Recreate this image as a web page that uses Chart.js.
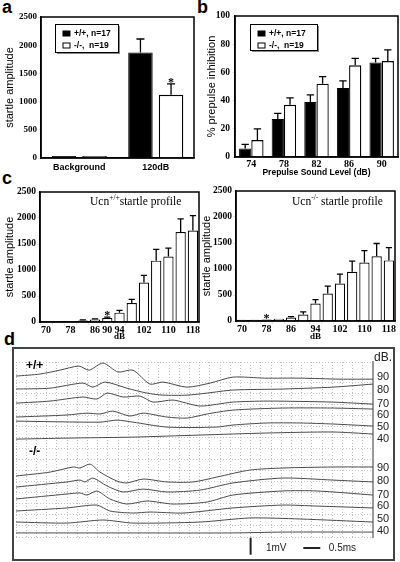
<!DOCTYPE html>
<html>
<head>
<meta charset="utf-8">
<title>Ucn startle</title>
<script src="https://cdn.jsdelivr.net/npm/chart.js@4.4.1/dist/chart.umd.min.js"></script>
<style>
  body { margin: 0; width: 400px; height: 562px; position: relative; overflow: hidden; background: #fff; font-family: 'Liberation Sans', Arial, sans-serif; }
  canvas { position: absolute; }
  .tag { position: absolute; font-weight: bold; font-size: 18px; line-height: 18px; }
  .geno { position: absolute; font-weight: bold; font-size: 12px; line-height: 14px; }
  #boxD { position: absolute; left: 12px; top: 347px; width: 379px; height: 210px; border: 2px solid #444; }
</style>
</head>
<body>
<div class="tag" style="left:2px;top:-2px">a</div>
<div class="tag" style="left:197px;top:-2px">b</div>
<div class="tag" style="left:2px;top:169px">c</div>
<div class="tag" style="left:4px;top:330px">d</div>
<canvas id="chartA" width="200" height="178" style="left:0;top:0"></canvas>
<canvas id="chartB" width="200" height="180" style="left:200px;top:0"></canvas>
<canvas id="chartC1" width="200" height="169" style="left:0;top:176px"></canvas>
<canvas id="chartC2" width="200" height="169" style="left:200px;top:176px"></canvas>
<div id="boxD"></div>
<canvas id="chartD" width="379" height="210" style="left:14px;top:349px"></canvas>
<div class="geno" style="left:26px;top:358px">+/+</div>
<div class="geno" style="left:29px;top:444px">-/-</div>

<script>
const serif = "'Liberation Serif', 'Times New Roman', serif";
const sans = "'Liberation Sans', Arial, sans-serif";

// panel a - startle amplitude
const aLabels = ['Background', '120dB'];
const aWT = [35, 1870];
const aWTerr = [0, 240];
const aKO = [35, 1120];
const aKOerr = [0, 195];

// panel b - prepulse inhibition
const bLabels = ['74', '78', '82', '86', '90'];
const bWT = [6, 27, 39, 49, 67];
const bWTerr = [3, 4, 5, 5, 3];
const bKO = [12, 37, 52, 65, 68];
const bKOerr = [8, 5, 5, 5, 8];

// panel c - startle profiles
const cLevels = ['70', '74', '78', '82', '86', '90', '94', '98', '102', '106', '110', '114', '118'];
const c1Shown = ['70', '78', '86', '90', '94', '102', '110', '118'];
const c2Shown = ['70', '78', '86', '94', '102', '110', '118'];
const c1Vals = [20, 20, 20, 30, 50, 75, 180, 365, 760, 1180, 1260, 1730, 1760];
const c1Err = [0, 0, 0, 10, 12, 20, 45, 70, 135, 215, 160, 255, 285];
const c2Vals = [25, 25, 30, 45, 65, 125, 335, 530, 720, 945, 1125, 1245, 1165];
const c2Err = [0, 0, 0, 0, 20, 50, 75, 140, 180, 205, 230, 245, 245];

// panel d - ABR traces (ms, mV)
const dbLevels = [90, 80, 70, 60, 50, 40];
const wtLabelAt = [9.4, 8.65, 7.85, 7.2, 6.45, 5.75];
const koLabelAt = [4.05, 3.3, 2.5, 1.8, 1.05, 0.35];
const wtTimes = [
  [0, 0.7, 1.29, 1.85, 2.15, 2.56, 3.0, 3.44, 3.94, 4.32, 5.03, 5.71, 6.38, 7.32, 8.35, 9.53, 10.5],
  [0, 1.0, 1.97, 2.26, 2.62, 3.26, 3.85, 4.32, 5.03, 5.62, 6.38, 7.85, 9.32, 10.5],
  [0, 1.0, 1.97, 2.38, 2.68, 3.15, 3.65, 4.03, 4.62, 5.41, 6.38, 7.38, 9.32, 10.5],
  [0, 1.5, 2.09, 2.47, 2.85, 3.35, 3.74, 4.44, 5.03, 5.62, 6.38, 7.85, 9.32, 10.5],
  [0, 2.47, 2.97, 3.44, 4.44, 5.91, 6.38, 7.38, 8.35, 9.32, 10.5],
  [0, 1.5, 3.44, 5.41, 7.38, 9.32, 10.5]
];
const wtVolts = [
  [9.47, 9.59, 9.82, 10.06, 9.82, 10.24, 9.71, 9.82, 9.0, 9.12, 8.82, 9.06, 9.41, 9.35, 9.35, 9.29, 9.29],
  [8.71, 8.76, 9.06, 8.82, 9.12, 8.76, 8.47, 8.35, 8.35, 8.47, 8.65, 8.71, 8.82, 9.0],
  [7.88, 8.0, 8.24, 8.12, 8.47, 8.24, 8.29, 7.94, 8.06, 7.71, 7.94, 8.0, 7.94, 7.82],
  [7.06, 7.18, 7.29, 7.24, 7.41, 7.12, 7.29, 7.06, 7.0, 7.24, 7.47, 7.59, 7.59, 7.53],
  [6.82, 6.76, 6.88, 6.76, 6.47, 6.47, 6.59, 6.71, 6.71, 6.65, 6.53],
  [5.76, 5.82, 5.88, 6.0, 6.12, 6.18, 6.06]
];
const koTimes = [
  [0, 1.0, 1.68, 1.88, 2.18, 2.47, 2.97, 3.26, 3.74, 4.44, 5.21, 5.91, 6.88, 7.85, 9.32, 10.5],
  [0, 1.5, 1.88, 2.03, 2.26, 2.68, 3.15, 3.74, 4.44, 5.41, 6.38, 7.85, 9.32, 10.5],
  [0, 1.5, 1.88, 2.09, 2.38, 2.76, 3.26, 3.85, 4.62, 5.62, 6.38, 7.85, 8.85, 10.5],
  [0, 1.5, 2.38, 2.76, 3.44, 3.94, 4.91, 6.38, 7.85, 8.85, 10.5],
  [0, 1.5, 2.56, 3.44, 5.41, 6.88, 8.35, 10.5],
  [0, 3.15, 6.38, 7.85, 10.5]
];
const koVolts = [
  [3.59, 3.82, 4.12, 4.06, 4.29, 3.82, 3.29, 3.18, 3.41, 3.24, 3.24, 3.53, 3.94, 4.06, 4.12, 4.12],
  [2.94, 3.24, 3.35, 3.24, 3.47, 3.0, 2.65, 2.82, 2.65, 2.76, 3.18, 3.47, 3.35, 3.24],
  [2.24, 2.53, 2.59, 2.47, 2.71, 2.24, 1.94, 2.12, 1.94, 2.06, 2.47, 2.71, 2.71, 2.47],
  [1.53, 1.71, 1.88, 1.53, 1.41, 1.47, 1.41, 1.71, 1.88, 1.82, 1.71],
  [0.88, 0.82, 1.0, 0.82, 0.88, 1.12, 1.06, 0.88],
  [0.24, 0.24, 0.24, 0.29, 0.29]
];

Chart.defaults.font.family = sans;
Chart.defaults.color = '#000';

// error bars (upward only) + significance stars
const errorBars = {
  id: 'errorBars',
  afterDatasetsDraw(chart) {
    const ctx = chart.ctx, y = chart.scales.y;
    chart.data.datasets.forEach((ds, i) => {
      if (!ds.errors) return;
      chart.getDatasetMeta(i).data.forEach((bar, j) => {
        const top = y.getPixelForValue(ds.data[j] + ds.errors[j]);
        ctx.save();
        ctx.strokeStyle = '#000';
        ctx.lineWidth = 1.3;
        if (ds.errors[j] > 0) {
          const half = Math.min(4, bar.width * 0.3);
          ctx.beginPath();
          ctx.moveTo(bar.x, bar.y);
          ctx.lineTo(bar.x, top);
          ctx.moveTo(bar.x - half, top);
          ctx.lineTo(bar.x + half, top);
          ctx.stroke();
        }
        if (ds.stars && ds.stars[j]) {
          ctx.fillStyle = '#000';
          ctx.font = 'bold 12px ' + serif;
          ctx.textAlign = 'center';
          ctx.textBaseline = 'middle';
          ctx.fillText('*', bar.x, top - 1);
        }
        ctx.restore();
      });
    });
  }
};

// box around plot area
const frame = {
  id: 'frame',
  afterDraw(chart) {
    const {ctx, chartArea: ca} = chart;
    ctx.save();
    ctx.strokeStyle = '#000';
    ctx.lineWidth = 1.5;
    ctx.strokeRect(ca.left, ca.top, ca.right - ca.left, ca.bottom - ca.top);
    ctx.restore();
  }
};

// legend box with shadow
const legendBox = {
  id: 'legendBox',
  afterDraw(chart, args, o) {
    if (!o.show) return;
    const {ctx, chartArea: ca} = chart;
    const x = ca.left + o.x, y = ca.top + o.y;
    ctx.save();
    ctx.fillStyle = '#888';
    ctx.fillRect(x + 2, y + 2, o.w, o.h);
    ctx.fillStyle = '#fff';
    ctx.fillRect(x, y, o.w, o.h);
    ctx.strokeStyle = '#000';
    ctx.lineWidth = 1;
    ctx.strokeRect(x + 0.5, y + 0.5, o.w, o.h);
    ctx.font = 'bold 8.5px ' + sans;
    ctx.textBaseline = 'middle';
    chart.data.datasets.forEach((ds, i) => {
      const ry = y + 9.5 + i * 12;
      ctx.fillStyle = ds.backgroundColor;
      ctx.fillRect(x + 8, ry - 2.5, 7, 5);
      ctx.strokeRect(x + 8, ry - 2.5, 7, 5);
      ctx.fillStyle = '#000';
      ctx.fillText(ds.label, x + 19, ry);
    });
    ctx.restore();
  }
};

// "Ucn+/+ startle profile" caption
const caption = {
  id: 'caption',
  afterDraw(chart, args, o) {
    if (!o.pre) return;
    const {ctx, chartArea: ca} = chart;
    let x = ca.left + o.x;
    const y = ca.top + o.y;
    ctx.save();
    ctx.fillStyle = '#000';
    ctx.textBaseline = 'middle';
    ctx.font = '11.5px ' + serif;
    ctx.fillText(o.pre, x, y);
    x += ctx.measureText(o.pre).width;
    ctx.font = '7.5px ' + serif;
    ctx.fillText(o.sup, x, y - 4);
    x += ctx.measureText(o.sup).width;
    ctx.font = '11.5px ' + serif;
    ctx.fillText(o.post, x, y);
    ctx.restore();
  }
};

function barScales(o) {
  return {
    x: {
      grid: {drawOnChartArea: false, drawTicks: !!o.xTickLen, tickLength: o.xTickLen || 0},
      border: {color: '#000', width: 1.5},
      ticks: {
        font: o.xFont, padding: o.xPad, autoSkip: false, maxRotation: 0,
        callback: function (v) {
          const l = this.getLabelForValue(v);
          return !o.shown || o.shown.includes(l) ? l : '';
        }
      },
      title: o.xTitle ? {display: true, text: o.xTitle, font: o.xTitleFont, padding: {top: 0, bottom: o.xTitlePad}} : {display: false},
      afterFit: s => { s.height = o.xH; }
    },
    y: {
      min: 0, max: o.yMax,
      grid: {drawOnChartArea: false, drawTicks: true, tickLength: 3},
      border: {color: '#000', width: 1.5},
      ticks: {stepSize: o.yStep, font: {family: serif, weight: 'bold', size: o.yFontSize}, padding: o.yPad,
              callback: v => String(v)},
      title: {display: true, text: o.yTitle, font: {family: sans, size: 11}, padding: {top: o.yTitlePad, bottom: 0}},
      afterFit: s => { s.width = o.yW; }
    }
  };
}

const common = {
  responsive: false,
  animation: false,
  devicePixelRatio: 1
};

// a
new Chart(document.getElementById('chartA'), {
  type: 'bar',
  data: {
    labels: aLabels,
    datasets: [
      {label: '+/+, n=17', data: aWT, errors: aWTerr, backgroundColor: '#000', borderColor: '#000', borderWidth: 1,
       categoryPercentage: 0.8, barPercentage: 0.8},
      {label: '-/-,  n=19', data: aKO, errors: aKOerr, stars: [false, true], backgroundColor: '#fff', borderColor: '#000', borderWidth: 1.3,
       categoryPercentage: 0.8, barPercentage: 0.8}
    ]
  },
  options: {
    ...common,
    layout: {padding: {left: 0, right: 6, top: 17, bottom: 0}},
    plugins: {
      legend: {display: false}, tooltip: {enabled: false},
      legendBox: {show: true, x: 14, y: 7, w: 63, h: 28}
    },
    scales: barScales({
      xFont: {family: sans, weight: 'bold', size: 9}, xPad: 4, xH: 20,
      yMax: 2500, yStep: 500, yFontSize: 9, yPad: 1, yW: 41,
      yTitle: 'startle amplitude', yTitlePad: 3
    })
  },
  plugins: [errorBars, frame, legendBox]
});

// b
new Chart(document.getElementById('chartB'), {
  type: 'bar',
  data: {
    labels: bLabels,
    datasets: [
      {label: '+/+, n=17', data: bWT, errors: bWTerr, backgroundColor: '#000', borderColor: '#000', borderWidth: 1,
       categoryPercentage: 0.75, barPercentage: 1},
      {label: '-/-,  n=19', data: bKO, errors: bKOerr, backgroundColor: '#fff', borderColor: '#000', borderWidth: 1.3,
       categoryPercentage: 0.75, barPercentage: 1}
    ]
  },
  options: {
    ...common,
    layout: {padding: {left: 0, right: 2, top: 16, bottom: 0}},
    plugins: {
      legend: {display: false}, tooltip: {enabled: false},
      legendBox: {show: true, x: 15, y: 8, w: 67, h: 26}
    },
    scales: barScales({
      xFont: {family: serif, weight: 'bold', size: 10}, xPad: 1, xH: 23,
      xTitle: 'Prepulse Sound Level (dB)', xTitleFont: {family: sans, weight: 'bold', size: 8.5}, xTitlePad: 2,
      yMax: 100, yStep: 20, yFontSize: 9.5, yPad: 2, yW: 35,
      yTitle: '% prepulse inhibition', yTitlePad: 5
    })
  },
  plugins: [errorBars, frame, legendBox]
});

// c
function profileChart(id, vals, errs, starIdx, shown, o) {
  return new Chart(document.getElementById(id), {
    type: 'bar',
    data: {
      labels: cLevels,
      datasets: [{
        label: 'startle', data: vals, errors: errs,
        stars: cLevels.map((_, i) => i === starIdx),
        backgroundColor: '#fff', borderColor: '#000', borderWidth: 1.2,
        categoryPercentage: 0.84, barPercentage: 1
      }]
    },
    options: {
      ...common,
      layout: {padding: {left: 0, right: o.padR, top: o.padT, bottom: 0}},
      plugins: {
        legend: {display: false}, tooltip: {enabled: false},
        caption: o.caption
      },
      scales: barScales({
        xFont: {family: serif, weight: 'bold', size: 10}, xPad: -1, xTickLen: 3, xH: o.xH, shown: shown,
        xTitle: 'dB', xTitleFont: {family: serif, weight: 'bold', size: 9}, xTitlePad: 2.6,
        yMax: 2500, yStep: 500, yFontSize: 9.5, yPad: 1, yW: o.yW,
        yTitle: 'startle amplitude', yTitlePad: o.yTitlePad
      })
    },
    plugins: [errorBars, frame, caption]
  });
}

profileChart('chartC1', c1Vals, c1Err, 5, c1Shown, {
  padR: 1, padT: 16, xH: 23, yW: 40, yTitlePad: 3.4,
  caption: {x: 50, y: 10, pre: 'Ucn', sup: '+/+', post: 'startle profile'}
});
profileChart('chartC2', c2Vals, c2Err, 2, c2Shown, {
  padR: 5, padT: 15, xH: 24, yW: 36, yTitlePad: 0.5,
  caption: {x: 56, y: 11, pre: 'Ucn', sup: '-/-', post: ' startle profile'}
});

// d
function traceSets(times, volts, labelAt) {
  return times.map((ts, i) => ({
    label: dbLevels[i] + ' dB',
    levelText: String(dbLevels[i]),
    labelAt: labelAt[i],
    data: ts.map((t, j) => ({x: t, y: volts[i][j]})),
    borderColor: '#4a4a4a', borderWidth: 1, pointRadius: 0, tension: 0.25, fill: false
  }));
}

const traceLabels = {
  id: 'traceLabels',
  afterDraw(chart) {
    const {ctx, chartArea: ca, scales} = chart;
    const x = scales.x, y = scales.y;
    ctx.save();
    ctx.fillStyle = '#222';
    ctx.textBaseline = 'middle';
    ctx.font = '11px ' + sans;
    chart.data.datasets.forEach(ds => {
      ctx.fillText(ds.levelText, ca.right + 4, y.getPixelForValue(ds.labelAt));
    });
    ctx.font = '12px ' + sans;
    ctx.fillText('dB.', ca.right + 1, ca.top - 4);
    // scale bars: 1 mV and 0.5 ms
    ctx.strokeStyle = '#222';
    ctx.lineWidth = 2;
    ctx.beginPath();
    ctx.moveTo(x.getPixelForValue(6.9), y.getPixelForValue(-0.05));
    ctx.lineTo(x.getPixelForValue(6.9), y.getPixelForValue(-1.05));
    ctx.moveTo(x.getPixelForValue(8.45), y.getPixelForValue(-0.65));
    ctx.lineTo(x.getPixelForValue(8.95), y.getPixelForValue(-0.65));
    ctx.stroke();
    ctx.font = '10px ' + sans;
    ctx.fillText('1mV', x.getPixelForValue(7.35), y.getPixelForValue(-0.65));
    ctx.fillText('0.5ms', x.getPixelForValue(9.2), y.getPixelForValue(-0.65));
    ctx.restore();
  }
};

new Chart(document.getElementById('chartD'), {
  type: 'line',
  data: {datasets: traceSets(wtTimes, wtVolts, wtLabelAt).concat(traceSets(koTimes, koVolts, koLabelAt))},
  options: {
    ...common,
    layout: {padding: {left: 2, right: 20, top: 13, bottom: 22}},
    plugins: {legend: {display: false}, tooltip: {enabled: false}},
    scales: {
      x: {
        type: 'linear', min: 0, max: 10.5,
        grid: {color: '#bdbdbd', lineWidth: 1, drawTicks: false},
        border: {display: false, dash: [1, 2]},
        ticks: {display: false, stepSize: 0.3},
        afterFit: s => { s.height = 0; }
      },
      y: {
        position: 'right', min: 0, max: 10.3,
        grid: {color: '#c4c4c4', lineWidth: 1, drawTicks: false},
        border: {display: true, color: '#999', width: 2, dash: [1, 2]},
        ticks: {display: false, stepSize: 0.65},
        afterFit: s => { s.width = 0; }
      }
    }
  },
  plugins: [traceLabels]
});
</script>
</body>
</html>
